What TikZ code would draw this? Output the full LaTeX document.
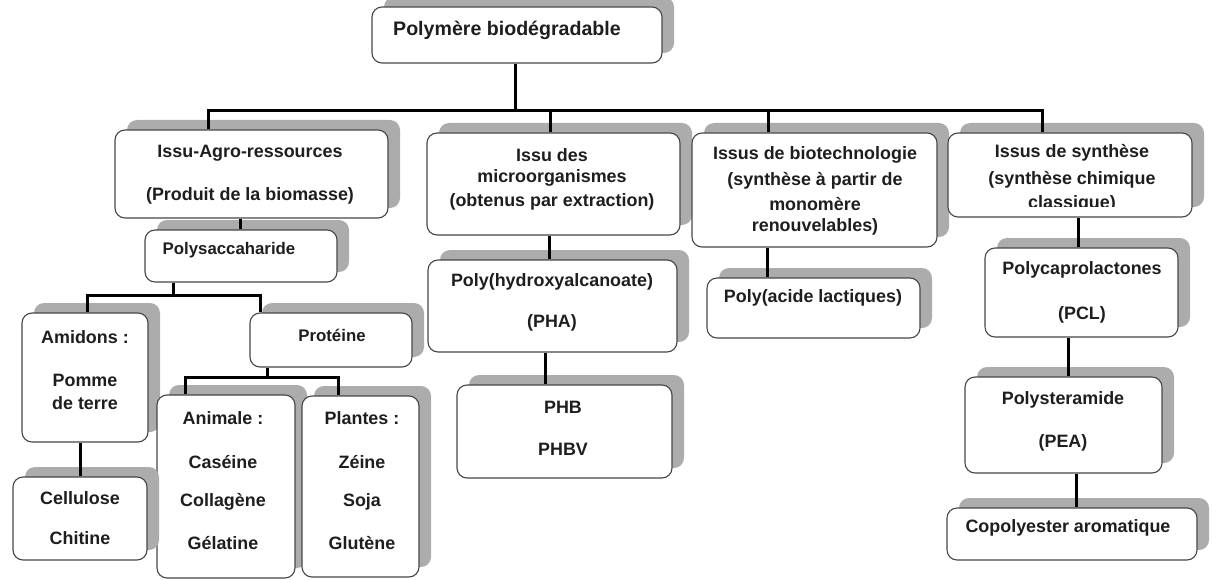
\documentclass[tikz,border=0pt]{standalone}
\usepackage{fontspec}
\setmainfont{Liberation Sans}
\usetikzlibrary{shadows}
\definecolor{shade}{RGB}{172,172,172}
\definecolor{edge}{RGB}{70,70,70}
\definecolor{ink}{RGB}{30,30,30}
\begin{document}
\begin{tikzpicture}[x=1pt,y=-1pt,
  box/.style={draw=edge,line width=1.1pt,rounded corners=10pt,fill=white,
    drop shadow={shadow xshift=12pt,shadow yshift=10pt,fill=shade,opacity=1},
    inner sep=0pt},
  txt/.style={font=\fontsize{17.9}{20}\selectfont\bfseries,text=ink,inner sep=0pt},
  bigtxt/.style={txt,font=\fontsize{19.6}{22}\selectfont\bfseries},
  smalltxt/.style={txt,font=\fontsize{16.8}{19}\selectfont\bfseries},
  conn/.style={line width=3pt,black}]
\useasboundingbox (0,0) rectangle (1217,580);
% boxes
\node[box,minimum width=290pt,minimum height=56pt] (top) at (517,35) {};
\node[box,minimum width=273pt,minimum height=88pt] (A) at (251.5,174) {};
\node[box,minimum width=253pt,minimum height=102pt] (B) at (553.5,184) {};
\node[box,minimum width=245pt,minimum height=114pt] (C) at (814.5,190) {};
\node[box,minimum width=244pt,minimum height=84pt] (D) at (1070,175) {};
\node[box,minimum width=192pt,minimum height=52pt] (Poly) at (241,256) {};
\node[box,minimum width=249pt,minimum height=92pt] (PHA) at (552.5,306) {};
\node[box,minimum width=213pt,minimum height=60pt] (PLA) at (813.5,308) {};
\node[box,minimum width=193pt,minimum height=89pt] (PCL) at (1081.5,292.5) {};
\node[box,minimum width=126pt,minimum height=129pt] (Amid) at (85,377.5) {};
\node[box,minimum width=162pt,minimum height=54pt] (Prot) at (331,340) {};
\node[box,minimum width=215pt,minimum height=93pt] (PHB) at (564.5,431.5) {};
\node[box,minimum width=197pt,minimum height=96pt] (PEA) at (1063.5,425) {};
\node[box,minimum width=138pt,minimum height=183pt] (Anim) at (226,486.5) {};
\node[box,minimum width=117pt,minimum height=181pt] (Plant) at (360.5,486.5) {};
\node[box,minimum width=134pt,minimum height=83pt] (Cell) at (80,518.5) {};
\node[box,minimum width=250pt,minimum height=52pt] (Copo) at (1072,534) {};
% texts
\node[bigtxt] (tTop) at (507,30) {Polymère biodégradable};
\node[txt] (tA1) at (250,153) {Issu-Agro-ressources};
\node[txt] (tA2) at (250,196) {(Produit de la biomasse)};
\node[txt] (tB1) at (552,155) {Issu des};
\node[txt] (tB2) at (552,178) {microorganismes};
\node[txt] (tB3) at (552,202) {(obtenus par extraction)};
\node[txt] (tC1) at (815,155) {Issus de biotechnologie};
\node[txt] (tC2) at (815,181) {(synthèse à partir de};
\node[txt] (tC3) at (815,204) {monomère};
\node[txt] (tC4) at (815,227) {renouvelables)};
\node[txt] (tD1) at (1072,153) {Issus de synthèse};
\node[txt] (tD2) at (1072,180) {(synthèse chimique};
\begin{scope}
\clip (948,190) rectangle (1192,206);
\node[txt] (tD3) at (1072,204) {classique)};
\end{scope}
\node[smalltxt] (tPoly) at (229,250) {Polysaccaharide};
\node[txt] (tPHA1) at (552,282) {Poly(hydroxyalcanoate)};
\node[txt] (tPHA2) at (552,323) {(PHA)};
\node[txt] (tPLA) at (813,298) {Poly(acide lactiques)};
\node[txt] (tPCL1) at (1082,270) {Polycaprolactones};
\node[txt] (tPCL2) at (1082,315) {(PCL)};
\node[txt] (tAm1) at (85,337) {Amidons :};
\node[txt] (tAm2) at (85,380) {Pomme};
\node[txt] (tAm3) at (85,403) {de terre};
\node[smalltxt] (tPr) at (332,335) {Protéine};
\node[txt] (tPHB1) at (563,407) {PHB};
\node[txt] (tPHB2) at (563,449) {PHBV};
\node[txt] (tPEA1) at (1063,400) {Polysteramide};
\node[txt] (tPEA2) at (1063,443) {(PEA)};
\node[txt] (tAn1) at (223,418) {Animale :};
\node[txt] (tAn2) at (223,462) {Caséine};
\node[txt] (tAn3) at (223,502) {Collagène};
\node[txt] (tAn4) at (223,543) {Gélatine};
\node[txt] (tPl1) at (362,418) {Plantes :};
\node[txt] (tPl2) at (362,462) {Zéine};
\node[txt] (tPl3) at (362,502) {Soja};
\node[txt] (tPl4) at (362,543) {Glutène};
\node[txt] (tCe1) at (80,498) {Cellulose};
\node[txt] (tCe2) at (80,538) {Chitine};
\node[txt] (tCo) at (1068,528) {Copolyester aromatique};
% connector x positions
\coordinate (bus) at (515,111);
\coordinate (xA) at (208,0);
\coordinate (xB) at (550,0);
\coordinate (xC) at (768,0);
\coordinate (xD) at (1042,0);
\coordinate (xP) at (240,0);
\coordinate (pbus) at (173,295);
\coordinate (xAm) at (87,0);
\coordinate (xPr) at (260,0);
\coordinate (xCe) at (80,0);
\coordinate (prbus) at (267,377);
\coordinate (xAn) at (185,0);
\coordinate (xPl) at (338,0);
\coordinate (xPHA) at (549,0);
\coordinate (xPHB) at (545,0);
\coordinate (xPLA) at (767,0);
\coordinate (xPCL) at (1078,0);
\coordinate (xPEA) at (1068,0);
\coordinate (xCo) at (1076,0);
% connectors
\draw[conn] (top.south -| bus) -- (bus);
\draw[conn] (A.north -| xA) |- (bus) -| (D.north -| xD);
\draw[conn] (B.north -| xB) -- (bus -| xB);
\draw[conn] (C.north -| xC) -- (bus -| xC);
\draw[conn] (A.south -| xP) -- (Poly.north -| xP);
\draw[conn] (Poly.south -| pbus) -- (pbus);
\draw[conn] (Amid.north -| xAm) |- (pbus) -| (Prot.north -| xPr);
\draw[conn] (Amid.south -| xCe) -- (Cell.north -| xCe);
\draw[conn] (Prot.south -| prbus) -- (prbus);
\draw[conn] (Anim.north -| xAn) |- (prbus) -| (Plant.north -| xPl);
\draw[conn] (B.south -| xPHA) -- (PHA.north -| xPHA);
\draw[conn] (PHA.south -| xPHB) -- (PHB.north -| xPHB);
\draw[conn] (C.south -| xPLA) -- (PLA.north -| xPLA);
\draw[conn] (D.south -| xPCL) -- (PCL.north -| xPCL);
\draw[conn] (PCL.south -| xPEA) -- (PEA.north -| xPEA);
\draw[conn] (PEA.south -| xCo) -- (Copo.north -| xCo);
\end{tikzpicture}
\end{document}
